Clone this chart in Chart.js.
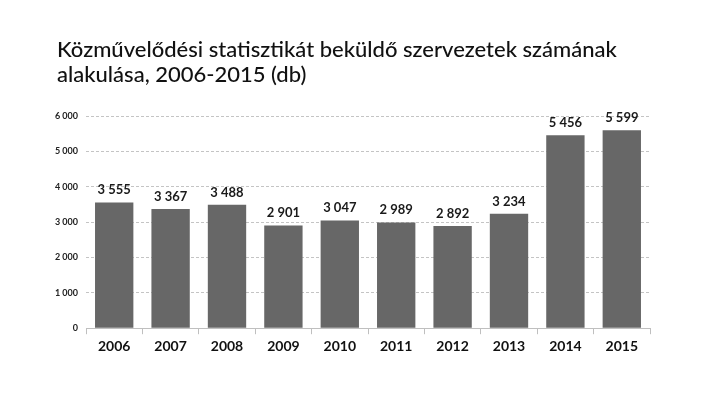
<!DOCTYPE html>
<html>
<head>
<meta charset="utf-8">
<script src="https://cdn.jsdelivr.net/npm/chart.js@4"></script>
<style>
  html, body { margin: 0; padding: 0; background: #fff; }
  #wrap { width: 709px; height: 399px; }
</style>
</head>
<body>
<div id="wrap"><canvas id="chart" width="709" height="399"></canvas></div>
<script>
/* Közművelődési statisztikát beküldő szervezetek — bar chart */

const years = ['2006','2007','2008','2009','2010','2011','2012','2013','2014','2015'];
const counts = [3555, 3367, 3488, 2901, 3047, 2989, 2892, 3234, 5456, 5599];
const yTicks = [0, 1000, 2000, 3000, 4000, 5000, 6000];
const titleLines = ['Közművelődési statisztikát beküldő szervezetek számának', 'alakulása, 2006-2015 (db)'];

const FONT = "Lato, 'Open Sans', sans-serif";

// thousands with a space, e.g. 3 555
function fmt(n) {
  return String(n).replace(/\B(?=(\d{3})+(?!\d))/g, ' ');
}

// value labels above each bar + the two-line title at top left
const extras = {
  id: 'extras',
  afterDatasetsDraw(chart) {
    const { ctx } = chart;
    const meta = chart.getDatasetMeta(0);
    ctx.save();
    ctx.font = `bold 13px ${FONT}`;
    ctx.fillStyle = '#1a1a1a';
    ctx.textAlign = 'center';
    ctx.textBaseline = 'bottom';
    meta.data.forEach((bar, i) => {
      ctx.fillText(fmt(counts[i]), bar.x, bar.y - 6);
    });

    ctx.font = `500 22px ${FONT}`;
    ctx.fillStyle = '#111';
    ctx.textAlign = 'left';
    ctx.textBaseline = 'alphabetic';
    titleLines.forEach((line, i) => ctx.fillText(line, 57, 57 + i * 25));
    ctx.restore();
  }
};

new Chart(document.getElementById('chart'), {
  type: 'bar',
  data: {
    labels: years,
    datasets: [{
      data: counts,
      backgroundColor: '#676767',
      borderWidth: 0,
      categoryPercentage: 1,
      barPercentage: 0.68,
    }],
  },
  plugins: [extras],
  options: {
    responsive: false,
    animation: false,
    layout: { padding: { left: 40, right: 59, top: 116, bottom: 40 } },
    plugins: {
      legend: { display: false },
      tooltip: { enabled: false },
      title: { display: false },
    },
    scales: {
      x: {
        grid: { display: true, drawOnChartArea: false, offset: true, tickLength: 6, color: '#bfbfbf' },
        border: { color: '#bfbfbf' },
        ticks: { color: '#111', font: { family: FONT, size: 14, weight: 'bold' }, padding: 4 },
      },
      y: {
        min: 0,
        max: 6000,
        afterFit(axis) { axis.width = 46; },
        afterBuildTicks(axis) { axis.ticks = yTicks.map((v) => ({ value: v })); },
        border: { display: false, dash: [3, 2] },
        grid: { color: '#c4c4c4', tickLength: 0, drawTicks: false },
        ticks: {
          color: '#222',
          font: { family: FONT, size: 9, weight: 'bold' },
          padding: 8,
          callback: (v) => fmt(v),
        },
      },
    },
  },
});
</script>
</body>
</html>
